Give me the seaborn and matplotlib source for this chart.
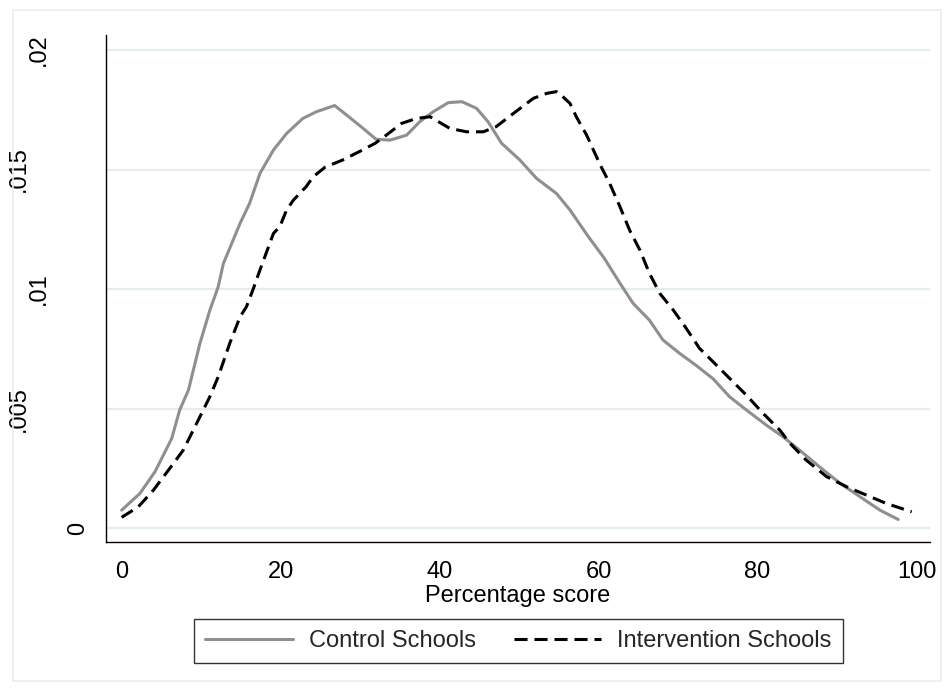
import numpy as np
import pandas as pd
import matplotlib
matplotlib.use("Agg")
import matplotlib.pyplot as plt
import seaborn as sns
from matplotlib.patches import Rectangle
from matplotlib.lines import Line2D

# ---- data ----
control_x = [0, 2.3, 4.2, 6.3, 7.3, 8.4, 9.85, 11.1, 12.15, 12.8, 14.9, 16.1, 17.4, 19.1,
             20.75, 22.8, 24.5, 26.8, 28.3, 30.1, 32.0, 33.75, 35.85, 37.5, 39.2, 41.1,
             42.8, 44.65, 46.1, 47.8, 50.1, 52.2, 54.7, 56.4, 58.7, 60.7, 62.7, 64.35,
             66.4, 68.1, 70.2, 72.3, 74.4, 76.5, 78.6, 81.1, 83.2, 85.3, 87.8, 90.4,
             92.9, 95.4, 97.7]
control_y = [0.00075, 0.00145, 0.00236, 0.00375, 0.00494, 0.00577, 0.00773, 0.00912, 0.0101,
             0.01107, 0.01275, 0.01359, 0.01484, 0.01582, 0.01651, 0.01714, 0.01742, 0.01768,
             0.01728, 0.0168, 0.01627, 0.01623, 0.01644, 0.017, 0.01742, 0.0178, 0.01784,
             0.01756, 0.017, 0.0161, 0.0154, 0.01463, 0.014, 0.01331, 0.0122, 0.0113,
             0.01024, 0.0094, 0.0087, 0.00787, 0.00731, 0.0068, 0.00625, 0.00549, 0.00494,
             0.00431, 0.00382, 0.00326, 0.00256, 0.00187, 0.00131, 0.00075, 0.00036]

intervention_x = [0, 2.1, 4.0, 5.9, 7.75, 9.85, 11.1, 12.15, 13.6, 14.9, 15.7, 16.55, 17.4,
                  19.1, 19.9, 20.75, 21.6, 23.2, 24.1, 25.6, 27.8, 29.9, 31.9, 33.3, 35.2,
                  37.1, 38.8, 41.3, 43.4, 45.5, 47.1, 49.3, 51.8, 53.5, 54.7, 55.5, 56.4,
                  57.2, 58.5, 60.2, 61.4, 62.7, 63.9, 65.2, 66.4, 67.7, 69.4, 70.9, 72.7,
                  74.4, 76.5, 78.6, 80.7, 82.8, 84.1, 86.1, 88.7, 91.2, 93.7, 96.2, 99.4]
intervention_y = [0.00045, 0.00089, 0.00159, 0.00243, 0.00326, 0.00466, 0.0055, 0.00633,
                  0.00773, 0.00884, 0.00926, 0.01, 0.0108, 0.01233, 0.01261, 0.01331, 0.01372,
                  0.01428, 0.0147, 0.0151, 0.0154, 0.01575, 0.0161, 0.01644, 0.01693, 0.01714,
                  0.01721, 0.01672, 0.01658, 0.01658, 0.01679, 0.01735, 0.01798, 0.01819,
                  0.01826, 0.01805, 0.01777, 0.01721, 0.01644, 0.0152, 0.01442, 0.01344,
                  0.01247, 0.01163, 0.01066, 0.00982, 0.00912, 0.00842, 0.00752, 0.00696,
                  0.00626, 0.00556, 0.0048, 0.0041, 0.00354, 0.00285, 0.00215, 0.00173,
                  0.00138, 0.00103, 0.00068]

series_names = ["Control Schools", "Intervention Schools"]
xticks = [0, 20, 40, 60, 80, 100]
xtick_labels = ["0", "20", "40", "60", "80", "100"]
yticks = [0, 0.005, 0.01, 0.015, 0.02]
ytick_labels = ["0", ".005", ".01", ".015", ".02"]
x_label = "Percentage score"

df = pd.concat([
    pd.DataFrame({"x": control_x, "y": control_y, "series": series_names[0]}),
    pd.DataFrame({"x": intervention_x, "y": intervention_y, "series": series_names[1]}),
], ignore_index=True)

# ---- style ----
sns.set_style("white")
plt.rcParams['font.family'] = ['Liberation Sans', 'DejaVu Sans']
plt.rcParams['lines.scale_dashes'] = False

W, H = 944, 691
fig = plt.figure(figsize=(W / 100, H / 100), dpi=100)
fig.patch.set_facecolor("white")
ax_l, ax_r, ax_t, ax_b = 106, 930, 35, 541.7
ax = fig.add_axes([ax_l / W, 1 - ax_b / H, (ax_r - ax_l) / W, (ax_b - ax_t) / H])

palette = {series_names[0]: "#8F8F8F", series_names[1]: "#000000"}
dashes = {series_names[0]: "", series_names[1]: (9.4, 5.0)}
sns.lineplot(data=df, x="x", y="y", hue="series", style="series",
             palette=palette, dashes=dashes, linewidth=2.2, ax=ax,
             legend=False, sort=False, estimator=None)

ax.set_xlim(-1.97, 101.7)
ax.set_ylim(-0.00057, 0.02063)
ax.set_xticks(xticks)
ax.set_xticklabels(xtick_labels)
ax.set_yticks(yticks)
ax.grid(axis="y", color="#E3ECEF", linewidth=1.6)
ax.grid(axis="x", visible=False)
ax.set_axisbelow(True)
for s in ["top", "right"]:
    ax.spines[s].set_visible(False)
for s in ["left", "bottom"]:
    ax.spines[s].set_color("#000000")
    ax.spines[s].set_linewidth(1.0)
ax.tick_params(axis="both", length=7.2, width=1.0, color="#333333",
               labelsize=17, labelcolor="black")
ax.tick_params(axis="x", pad=7)
ax.tick_params(axis="y", labelleft=False)
ax.set_xlabel(x_label, fontsize=17, labelpad=1, color="black")
ax.set_ylabel("")

# rotated y tick labels, Stata-like placement
for val, lab in zip(yticks, ytick_labels):
    cx = 98.5 - 20 * len(lab)
    ax.text((cx - ax_l) / (ax_r - ax_l), val, lab, transform=ax.get_yaxis_transform(),
            rotation=90, ha="center", va="center", fontsize=17, clip_on=False,
            color="black")

# legend
handles = [Line2D([], [], color=palette[n], linewidth=2.2,
                  linestyle="-" if n == series_names[0] else (0, dashes[n]))
           for n in series_names]
leg = fig.legend(handles, series_names, loc="center",
                 bbox_to_anchor=(518.5 / W, 1 - 641 / H), ncol=2, frameon=True,
                 fancybox=False, edgecolor="black", handlelength=3.7,
                 handletextpad=0.67, columnspacing=1.63, borderpad=0.48, fontsize=17)
leg.get_frame().set_linewidth(1.0)

# outer light frame of the graph region
fig.add_artist(Rectangle((13 / W, 1 - 681 / H), (941 - 13) / W, (681 - 10) / H,
                         transform=fig.transFigure, fill=False,
                         edgecolor="#E6EEF1", linewidth=1.2))

fig.savefig("out.png", dpi=100)
